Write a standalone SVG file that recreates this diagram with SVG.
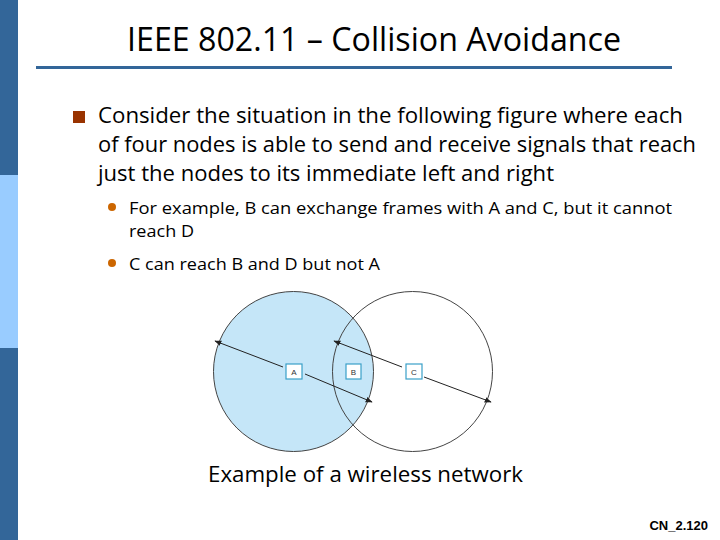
<svg xmlns="http://www.w3.org/2000/svg" width="720" height="540" viewBox="0 0 720 540">
<style>
.t{font-family:"Open Sans","Liberation Sans",sans-serif;fill:#000}
.c{stroke:#444;stroke-width:1}
.ar{stroke:#222;stroke-width:1;marker-end:url(#ah)}
.box{fill:#fff;stroke:#3aa0c8;stroke-width:1.2}
.bl{font-family:"Liberation Sans",sans-serif;font-size:8px;text-anchor:middle;fill:#333}
</style>
<defs><marker id="ah" viewBox="0 0 10 10" refX="9" refY="5" markerWidth="7" markerHeight="7" orient="auto"><path d="M0,1L10,5L0,9z" fill="#222"/></marker></defs>
<rect width="720" height="540" fill="#fff"/>
<rect x="0" y="0" width="18" height="175" fill="#336699"/>
<rect x="0" y="175" width="18" height="173" fill="#99ccff"/>
<rect x="0" y="348" width="18" height="192" fill="#336699"/>
<text class="t" x="127" y="51" font-size="32" textLength="494" lengthAdjust="spacingAndGlyphs">IEEE 802.11 – Collision Avoidance</text>
<rect x="36" y="66" width="636" height="3" fill="#336699"/>
<rect x="73" y="111" width="12" height="12" fill="#993300"/>
<text class="t" font-size="21.5"><tspan x="98" y="123" textLength="585" lengthAdjust="spacingAndGlyphs">Consider the situation in the following figure where each</tspan><tspan x="98" y="152" textLength="598" lengthAdjust="spacingAndGlyphs">of four nodes is able to send and receive signals that reach</tspan><tspan x="98" y="181" textLength="456" lengthAdjust="spacingAndGlyphs">just the nodes to its immediate left and right</tspan></text>
<circle cx="112" cy="207" r="4" fill="#cc6600"/>
<circle cx="112" cy="263" r="4" fill="#cc6600"/>
<text class="t" font-size="17"><tspan x="129" y="214" textLength="543" lengthAdjust="spacingAndGlyphs">For example, B can exchange frames with A and C, but it cannot</tspan><tspan x="129" y="237" textLength="65" lengthAdjust="spacingAndGlyphs">reach D</tspan><tspan x="129" y="270" textLength="251" lengthAdjust="spacingAndGlyphs">C can reach B and D but not A</tspan></text>
<g id="circleA"><circle class="c" cx="293.5" cy="371.5" r="80" fill="#c5e6f8"/></g>
<g id="circleC"><circle class="c" cx="412.5" cy="371.5" r="80" fill="none"/></g>
<g id="connectors">
<line class="ar" x1="283" y1="367" x2="215" y2="341"/>
<line class="ar" x1="305" y1="374" x2="372" y2="402"/>
<line class="ar" x1="402" y1="367" x2="334" y2="341"/>
<line class="ar" x1="424" y1="377" x2="491" y2="402"/>
</g>
<g id="nodeA"><rect class="box" x="286" y="364" width="16" height="15"/><text class="bl" x="294" y="375">A</text></g>
<g id="nodeB"><rect class="box" x="346" y="364" width="15" height="15"/><text class="bl" x="353.5" y="375">B</text></g>
<g id="nodeC"><rect class="box" x="406" y="364" width="16" height="15"/><text class="bl" x="414" y="375">C</text></g>
<text class="t" x="208" y="482" font-size="21.5" textLength="315" lengthAdjust="spacingAndGlyphs">Example of a wireless network</text>
<text x="708" y="530" font-family="Liberation Sans,sans-serif" font-size="13" font-weight="bold" text-anchor="end">CN_2.120</text>
</svg>
